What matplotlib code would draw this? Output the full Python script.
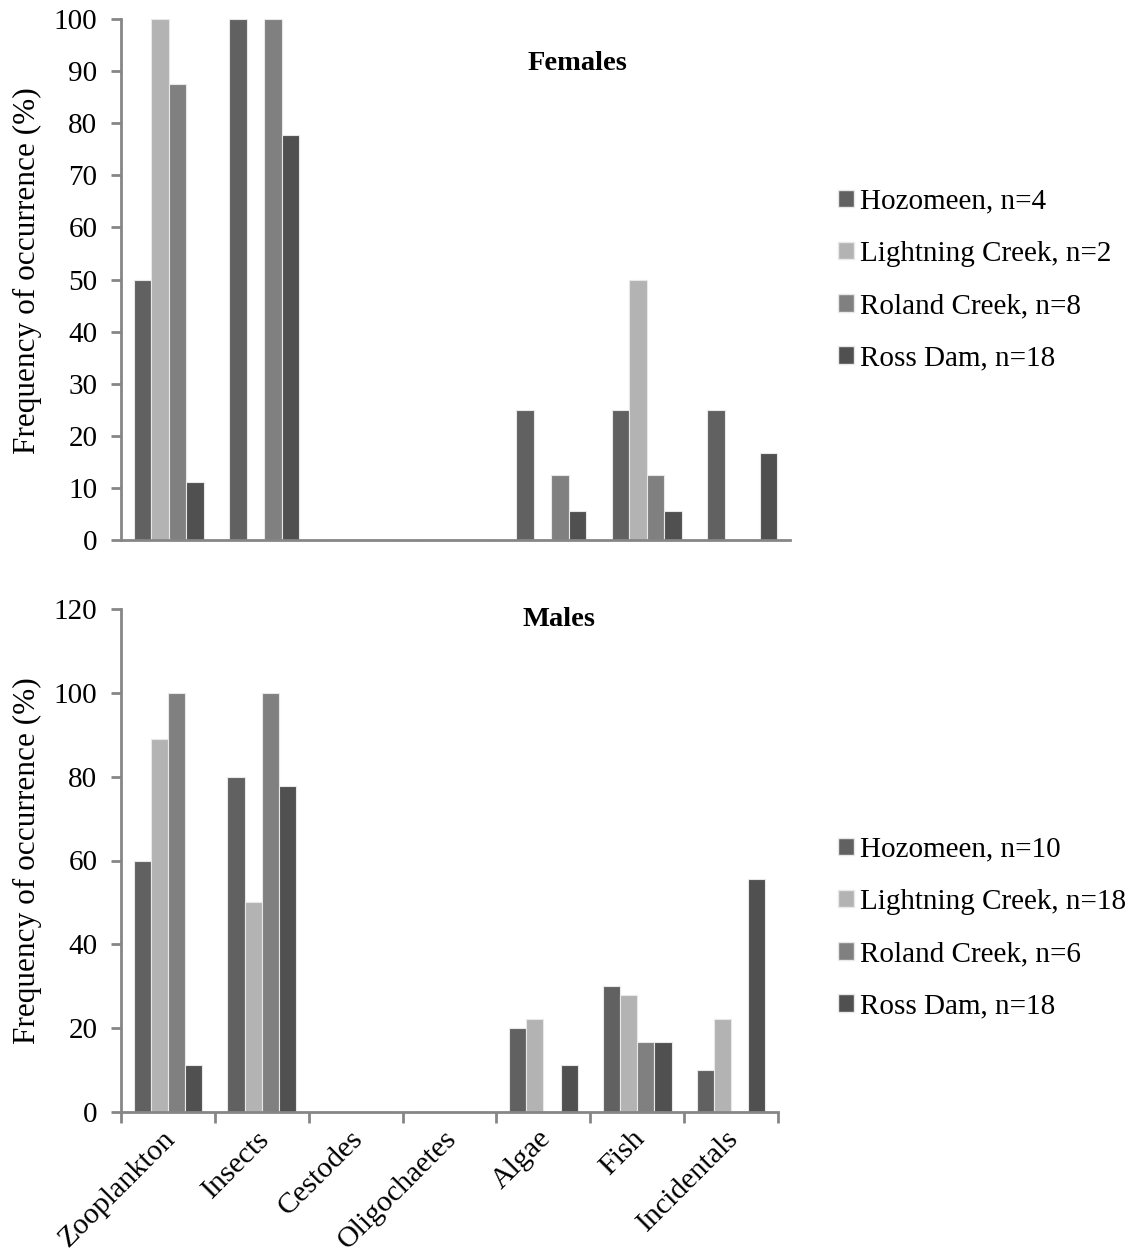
import matplotlib
matplotlib.use("Agg")
import matplotlib.pyplot as plt
import numpy as np
from matplotlib.patches import Patch

plt.rcParams['font.family'] = ['Liberation Serif', 'DejaVu Serif']

categories = ["Zooplankton", "Insects", "Cestodes", "Oligochaetes", "Algae", "Fish", "Incidentals"]

fem_labels = ["Hozomeen, n=4", "Lightning Creek, n=2", "Roland Creek, n=8", "Ross Dam, n=18"]
fem_hozomeen = [50, 100, 0, 0, 25, 25, 25]
fem_lightning = [100, 0, 0, 0, 0, 50, 0]
fem_roland = [87.5, 100, 0, 0, 12.5, 12.5, 0]
fem_ross = [11.1, 77.8, 0, 0, 5.6, 5.6, 16.7]

male_labels = ["Hozomeen, n=10", "Lightning Creek, n=18", "Roland Creek, n=6", "Ross Dam, n=18"]
male_hozomeen = [60, 80, 0, 0, 20, 30, 10]
male_lightning = [88.9, 50, 0, 0, 22.2, 27.8, 22.2]
male_roland = [100, 100, 0, 0, 0, 16.7, 0]
male_ross = [11.1, 77.8, 0, 0, 11.1, 16.7, 55.6]

colors = ["#616161", "#b3b3b3", "#808080", "#505050"]
spine_c = "#868686"

fig = plt.figure(figsize=(11.27, 12.56), dpi=100)
ax1 = fig.add_axes([121/1127, 1-540/1256, (790-121)/1127, (540-19)/1256])
ax2 = fig.add_axes([121/1127, 1-1112/1256, (778-121)/1127, (1112-609)/1256])

def draw(ax, series, labels, ymax, ystep, title, title_xy, show_xt, leg_anchor):
    x = np.arange(len(categories))
    w = 0.183
    for i, (s, c) in enumerate(zip(series, colors)):
        ax.bar(x + (i - 1.5) * w, s, width=w, color=c, edgecolor="#e8e8e8", linewidth=0.8, label=labels[i], zorder=2)
    ax.set_xlim(-0.5, len(categories) - 0.5)
    ax.set_ylim(0, ymax)
    ax.set_yticks(np.arange(0, ymax + 1, ystep))
    for s in ["top", "right"]:
        ax.spines[s].set_visible(False)
    for s in ["left", "bottom"]:
        ax.spines[s].set_color(spine_c)
        ax.spines[s].set_linewidth(2)
    ax.tick_params(axis="y", direction="out", length=7, width=2, color=spine_c, labelsize=21, pad=10)
    if show_xt:
        ax.set_xticks(np.arange(-0.5, len(categories), 1.0))
        ax.set_xticklabels([])
        ax.tick_params(axis="x", direction="out", length=8, width=2, color=spine_c)
        for i, cat in enumerate(categories):
            ax.text(i - 0.06, -0.027, cat, rotation=45, ha="right", va="top",
                    fontsize=21.5, rotation_mode="anchor", transform=ax.get_xaxis_transform())
    else:
        ax.set_xticks([])
    ax.set_ylabel("Frequency of occurrence (%)", fontsize=22.5)
    ax.text(title_xy[0], title_xy[1], title, transform=fig.transFigure, fontsize=20.5,
            fontweight="bold", ha="center", va="center")
    handles = [Patch(facecolor=c, edgecolor="#e8e8e8") for c in colors]
    fig.legend(handles, labels, loc="center left", bbox_to_anchor=leg_anchor, frameon=False,
               fontsize=21, handlelength=0.55, handleheight=0.55, handletextpad=0.2,
               labelspacing=0.9, borderaxespad=0)

draw(ax1, [fem_hozomeen, fem_lightning, fem_roland, fem_ross], fem_labels, 100, 10,
     "Females", (578/1127, 1-64/1256), False, (826/1127, 1-280/1256))
draw(ax2, [male_hozomeen, male_lightning, male_roland, male_ross], male_labels, 120, 20,
     "Males", (559/1127, 1-620/1256), True, (826/1127, 1-928/1256))

ax1.yaxis.set_label_coords(-0.118, 0.517)
ax2.yaxis.set_label_coords(-0.12, 0.5)

fig.savefig("out.png", dpi=100, facecolor="white")
